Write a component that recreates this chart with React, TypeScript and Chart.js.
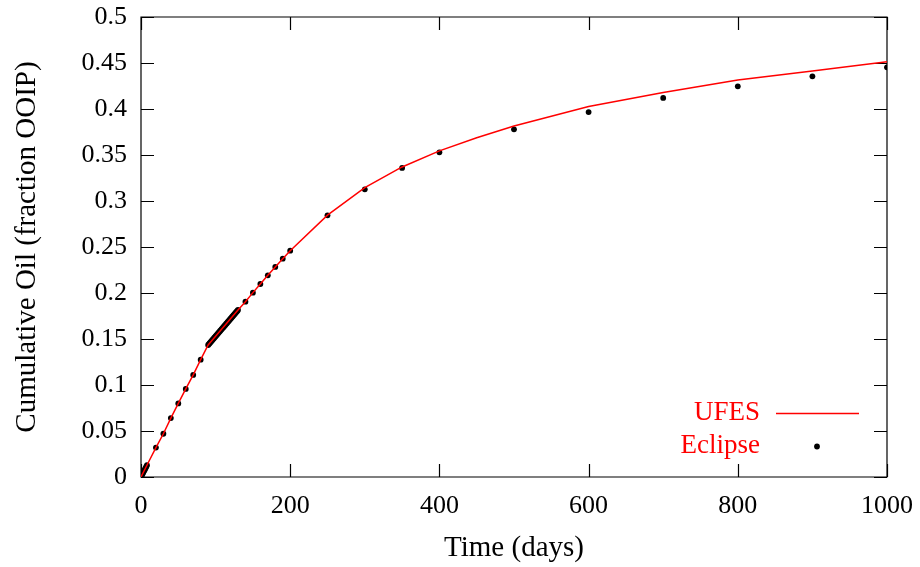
import React, { useEffect, useRef } from "react";
import { Chart, registerables } from "chart.js";

Chart.register(...registerables);

const xTicks = [0, 200, 400, 600, 800, 1000];
const yTicks = [0, 0.05, 0.1, 0.15, 0.2, 0.25, 0.3, 0.35, 0.4, 0.45, 0.5];
const yTickLabels = ["0", "0.05", "0.1", "0.15", "0.2", "0.25", "0.3", "0.35", "0.4", "0.45", "0.5"];

const ufesDays = [0, 10, 20, 30, 40, 50, 60, 70, 80, 90, 100, 110, 120, 130, 140, 150, 160, 170, 180, 190, 200, 250, 300, 350, 400, 450, 500, 600, 700, 800, 900, 1000];
const ufesOil = [0, 0.016, 0.032, 0.047, 0.064, 0.08, 0.0957, 0.111, 0.1275, 0.1435, 0.153, 0.1625, 0.172, 0.1815, 0.1906, 0.2004, 0.2098, 0.2192, 0.2283, 0.2373, 0.246, 0.2846, 0.3145, 0.337, 0.3545, 0.3688, 0.3815, 0.4028, 0.418, 0.4315, 0.4413, 0.4514];

const eclipseDays = [
  0, 1, 2, 3, 4, 5, 6, 7, 8,
  20, 30, 40, 50, 60, 70, 80,
  90, 91, 92, 93, 94, 95, 96, 97, 98, 99, 100, 101, 102, 103, 104, 105, 106, 107, 108, 109, 110,
  111, 112, 113, 114, 115, 116, 117, 118, 119, 120, 121, 122, 123, 124, 125, 126, 127, 128, 129, 130,
  140, 150, 160, 170, 180, 190, 200, 250, 300, 350, 400, 500, 600, 700, 800, 900, 1000,
];
const eclipseOil = [
  0, 0.0016, 0.0032, 0.0048, 0.0064, 0.008, 0.0096, 0.0112, 0.0128,
  0.032, 0.047, 0.064, 0.08, 0.0957, 0.111, 0.1275,
  0.1435, 0.1445, 0.1454, 0.1464, 0.1473, 0.1483, 0.1492, 0.1502, 0.1511, 0.1521, 0.153, 0.154, 0.1549, 0.1559, 0.1568, 0.1578, 0.1587, 0.1597, 0.1606, 0.1616, 0.1625,
  0.1634, 0.1644, 0.1653, 0.1663, 0.1672, 0.1682, 0.1691, 0.1701, 0.171, 0.172, 0.1729, 0.1739, 0.1748, 0.1758, 0.1767, 0.1777, 0.1786, 0.1796, 0.1805, 0.1815,
  0.1906, 0.2004, 0.2098, 0.2192, 0.2283, 0.2373, 0.246, 0.2844, 0.3127, 0.3359, 0.3529, 0.3779, 0.3967, 0.412, 0.4247, 0.4355, 0.4453,
];

const FONT = "'Liberation Serif', 'Times New Roman', serif";
const TICK_FS = 26;
const TITLE_FS = 29;
const LEGEND_FS = 27;

const framePlugin = {
  id: "gnuFrame",
  beforeDatasetsDraw(chart: any) {
    const { ctx, chartArea: a, scales } = chart;
    const tl = 13;
    ctx.save();
    ctx.strokeStyle = "#000";
    ctx.lineWidth = 1.2;
    ctx.beginPath();
    ctx.rect(a.left, a.top, a.right - a.left, a.bottom - a.top);
    for (const v of xTicks) {
      const px = Math.round(scales.x.getPixelForValue(v)) + 0.5;
      ctx.moveTo(px, a.bottom);
      ctx.lineTo(px, a.bottom - tl);
      ctx.moveTo(px, a.top);
      ctx.lineTo(px, a.top + tl);
    }
    for (const v of yTicks) {
      const py = Math.round(scales.y.getPixelForValue(v)) + 0.5;
      ctx.moveTo(a.left, py);
      ctx.lineTo(a.left + tl, py);
      ctx.moveTo(a.right, py);
      ctx.lineTo(a.right - tl, py);
    }
    ctx.stroke();
    ctx.restore();
  },
  afterDatasetsDraw(chart: any) {
    const { ctx, chartArea: a } = chart;
    ctx.save();
    ctx.font = `${LEGEND_FS}px ${FONT}`;
    ctx.fillStyle = "#ff0000";
    ctx.textAlign = "right";
    ctx.textBaseline = "middle";
    const tx = a.right - 127;
    const y1 = a.bottom - 64;
    const y2 = a.bottom - 31;
    ctx.fillText("UFES", tx, y1);
    ctx.fillText("Eclipse", tx, y2);
    ctx.strokeStyle = "#ff0000";
    ctx.lineWidth = 1.5;
    ctx.beginPath();
    ctx.moveTo(a.right - 111, y1 + 0.5);
    ctx.lineTo(a.right - 28, y1 + 0.5);
    ctx.stroke();
    ctx.fillStyle = "#000";
    ctx.beginPath();
    ctx.arc(a.right - 70, y2 + 0.5, 2.9, 0, Math.PI * 2);
    ctx.fill();
    ctx.restore();
  },
};

function zeroPad(s: any) {
  s.paddingTop = 0;
  s.paddingBottom = 0;
  s.paddingLeft = 0;
  s.paddingRight = 0;
}

export default function App() {
  const ref = useRef<HTMLCanvasElement | null>(null);
  useEffect(() => {
    if (!ref.current) return;
    const tickFont = { family: FONT, size: TICK_FS };
    const titleFont = { family: FONT, size: TITLE_FS };
    const chart = new Chart(ref.current, {
      type: "scatter",
      data: {
        datasets: [
          {
            label: "UFES",
            data: ufesDays.map((d, i) => ({ x: d, y: ufesOil[i] })),
            showLine: true,
            borderColor: "#ff0000",
            borderWidth: 1.5,
            pointRadius: 0,
            fill: false,
            tension: 0,
          },
          {
            label: "Eclipse",
            data: eclipseDays.map((d, i) => ({ x: d, y: eclipseOil[i] })),
            showLine: false,
            pointRadius: 2.9,
            pointBackgroundColor: "#000",
            pointBorderWidth: 0,
            borderColor: "#000",
          },
        ],
      },
      options: {
        animation: false,
        responsive: false,
        maintainAspectRatio: false,
        layout: { padding: { top: 17, right: 33, left: 0, bottom: 0 } },
        plugins: { legend: { display: false }, tooltip: { enabled: false } },
        scales: {
          x: {
            type: "linear",
            position: "bottom",
            min: 0,
            max: 1000,
            afterBuildTicks: (s: any) => {
              s.ticks = xTicks.map((v) => ({ value: v }));
            },
            afterFit: (s: any) => {
              s.height = 90;
              zeroPad(s);
            },
            grid: { display: false, drawTicks: false },
            border: { display: false },
            ticks: {
              font: tickFont,
              color: "#000",
              padding: 14,
              maxRotation: 0,
              autoSkip: false,
              callback: (v: any) => String(v),
            },
            title: { display: true, text: "Time (days)", font: titleFont, color: "#000", padding: { top: 0, bottom: 1 } },
          },
          y: {
            type: "linear",
            position: "left",
            min: 0,
            max: 0.5,
            afterBuildTicks: (s: any) => {
              s.ticks = yTicks.map((v) => ({ value: v }));
            },
            afterFit: (s: any) => {
              s.width = 141;
              zeroPad(s);
            },
            grid: { display: false, drawTicks: false },
            border: { display: false },
            ticks: {
              font: tickFont,
              color: "#000",
              padding: 14,
              autoSkip: false,
              callback: (v: any) => {
                const i = yTicks.findIndex((t) => Math.abs(t - v) < 1e-9);
                return i >= 0 ? yTickLabels[i] : "";
              },
            },
            title: { display: true, text: "Cumulative Oil (fraction OOIP)", font: titleFont, color: "#000", padding: { top: 10, bottom: 0 } },
          },
        },
      },
      plugins: [framePlugin],
    } as any);
    return () => chart.destroy();
  }, []);
  return (
    <div style={{ position: "fixed", left: 0, top: 0, width: 920, height: 567, background: "#fff" }}>
      <canvas ref={ref} width={920} height={567} style={{ width: 920, height: 567 }} />
    </div>
  );
}
